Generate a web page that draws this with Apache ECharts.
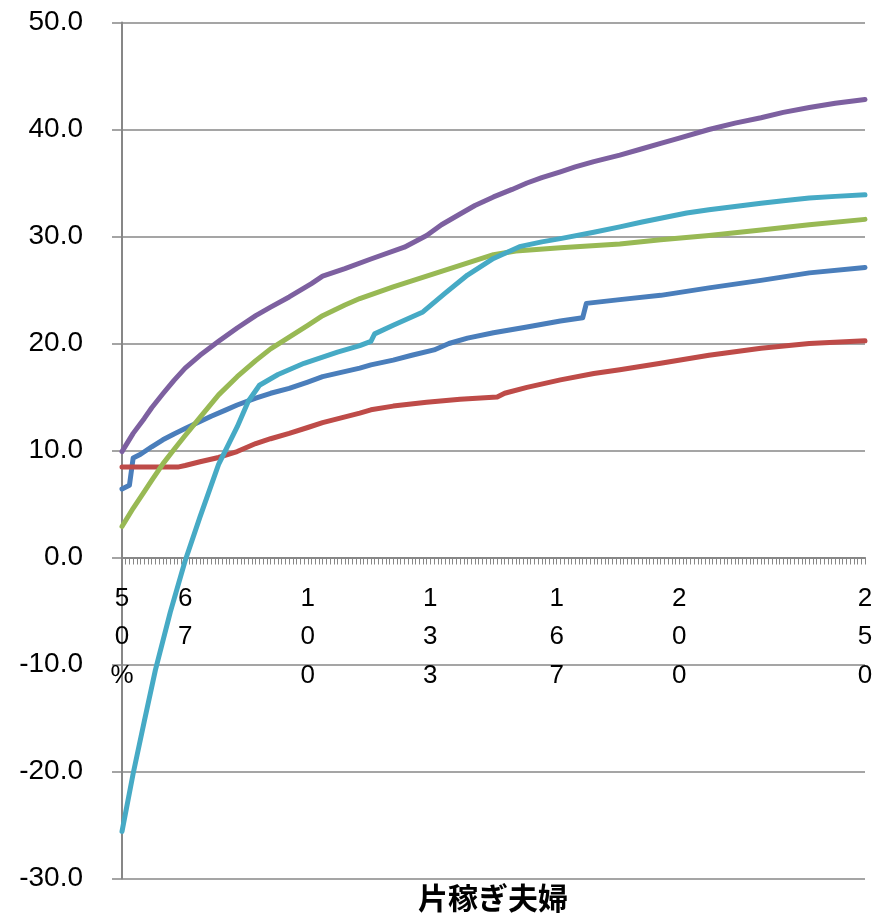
<!DOCTYPE html>
<html>
<head>
<meta charset="utf-8">
<script src="https://cdn.jsdelivr.net/npm/echarts@6/dist/echarts.min.js"></script>
<style>
  html, body { margin: 0; padding: 0; background: #fff; }
  #chart { width: 885px; height: 920px; }
</style>
</head>
<body>
<div id="chart"></div>
<script>
// Income ratio categories (%), one per step from 50 to 250
const ratioStart = 50;
const ratioEnd = 250;
const categories = [];
for (let r = ratioStart; r <= ratioEnd; r++) categories.push(String(r));

// Ratios that carry a tick label
const labeledRatios = [50, 67, 100, 133, 167, 200, 250];

// Y-axis scale
const yMin = -30;
const yMax = 50;
const yStep = 10;

// Series values as [ratio, value] pairs
const seriesBlue = [
  [50, 6.4], [52, 6.75], [53, 9.3], [55, 9.65], [58, 10.35], [61, 11.0],
  [64, 11.55], [67, 12.05], [71, 12.7], [74, 13.2], [78, 13.8], [81, 14.25],
  [86, 14.9], [90, 15.35], [95, 15.8], [100, 16.4], [104, 16.9], [109, 17.3],
  [114, 17.7], [117, 18.0], [123, 18.45], [128, 18.9], [134, 19.4],
  [138, 20.0], [143, 20.5], [150, 21.0], [159, 21.55], [168, 22.1],
  [174, 22.4], [175, 23.75], [184, 24.1], [195, 24.5], [208, 25.2],
  [222, 25.9], [235, 26.6], [250, 27.1]
];
const seriesRed = [
  [50, 8.45], [65, 8.45], [67, 8.6], [71, 8.95], [76, 9.35], [81, 9.9],
  [86, 10.65], [90, 11.1], [95, 11.6], [100, 12.15], [104, 12.6],
  [109, 13.05], [114, 13.5], [117, 13.8], [123, 14.15], [132, 14.5],
  [141, 14.8], [151, 15.0], [153, 15.35], [159, 15.9], [168, 16.6],
  [177, 17.2], [184, 17.55], [195, 18.15], [208, 18.9], [222, 19.55],
  [235, 20.0], [250, 20.25]
];
const seriesGreen = [
  [50, 2.9], [53, 4.6], [56, 6.15], [58, 7.2], [61, 8.75], [64, 10.1],
  [67, 11.4], [71, 13.1], [76, 15.2], [81, 16.9], [86, 18.4], [90, 19.5],
  [95, 20.6], [100, 21.7], [104, 22.6], [110, 23.6], [114, 24.2],
  [123, 25.3], [132, 26.3], [141, 27.3], [150, 28.3], [156, 28.65],
  [168, 28.95], [184, 29.3], [195, 29.7], [208, 30.1], [222, 30.6],
  [235, 31.1], [250, 31.6]
];
const seriesPurple = [
  [50, 9.9], [53, 11.6], [56, 13.0], [58, 14.0], [61, 15.3], [64, 16.55],
  [67, 17.7], [71, 18.9], [76, 20.2], [81, 21.45], [86, 22.6], [90, 23.4],
  [95, 24.35], [101, 25.6], [104, 26.3], [110, 27.0], [117, 27.9],
  [126, 29.0], [132, 30.1], [136, 31.1], [141, 32.1], [145, 32.9],
  [150, 33.7], [155, 34.4], [159, 35.0], [163, 35.5], [168, 36.05],
  [172, 36.5], [177, 37.0], [184, 37.6], [190, 38.2], [195, 38.7],
  [200, 39.2], [208, 40.0], [215, 40.6], [222, 41.1], [228, 41.6],
  [235, 42.05], [242, 42.45], [250, 42.8]
];
const seriesCyan = [
  [50, -25.6], [53, -20.2], [56, -15.3], [59, -10.5], [63, -5.1],
  [67, -0.3], [71, 3.8], [76, 8.7], [81, 12.2], [84, 14.6], [87, 16.1],
  [92, 17.1], [99, 18.15], [108, 19.2], [114, 19.8], [117, 20.2],
  [118, 20.9], [123, 21.7], [131, 22.95], [137, 24.7], [143, 26.4],
  [150, 27.95], [157, 29.05], [163, 29.5], [168, 29.8], [177, 30.4],
  [184, 30.9], [190, 31.35], [195, 31.7], [202, 32.2], [208, 32.5],
  [215, 32.8], [222, 33.1], [228, 33.35], [235, 33.6], [242, 33.75],
  [250, 33.9]
];

const axisName = '片稼ぎ夫婦';

const lines = [
  { name: '系列1', data: seriesBlue, color: '#4A7EBB' },
  { name: '系列2', data: seriesRed, color: '#BE4B48' },
  { name: '系列3', data: seriesGreen, color: '#98B954' },
  { name: '系列4', data: seriesPurple, color: '#7D60A0' },
  { name: '系列5', data: seriesCyan, color: '#46AAC5' }
];

const axisGray = '#878787';
const labelFont = 'Liberation Sans, Arial, sans-serif';

// Plot area geometry
const gridTop = 22.5;
const gridBottom = 41.5;
const gridHeight = 920 - gridTop - gridBottom;
// Shift the category axis up from the grid bottom to the zero line
const zeroOffset = -gridHeight * (0 - yMin) / (yMax - yMin);

const chart = echarts.init(document.getElementById('chart'), null, { renderer: 'canvas' });

chart.setOption({
  animation: false,
  backgroundColor: '#ffffff',
  title: {
    text: axisName,
    left: 418,
    top: 883,
    padding: 0,
    textStyle: {
      fontFamily: 'Noto Sans CJK JP',
      fontSize: 30,
      fontWeight: 'bold',
      color: '#000000'
    }
  },
  grid: {
    left: 122, right: 20, top: gridTop, bottom: gridBottom,
    containLabel: false, outerBoundsMode: 'none'
  },
  xAxis: {
    type: 'category',
    data: categories,
    boundaryGap: false,
    position: 'bottom',
    offset: zeroOffset,
    axisLine: { onZero: false, lineStyle: { color: axisGray, width: 2 } },
    axisTick: { show: true, interval: 0, length: 7, lineStyle: { color: axisGray, width: 1 } },
    axisLabel: {
      interval: (idx, val) => labeledRatios.includes(Number(val)),
      margin: 22,
      fontFamily: labelFont,
      fontSize: 26,
      lineHeight: 38.5,
      color: '#000000',
      formatter: (val) => {
        const txt = Number(val) === ratioStart ? val + '%' : val;
        return txt.split('').join('\n');
      }
    },
    splitLine: { show: false }
  },
  yAxis: {
    type: 'value',
    min: yMin,
    max: yMax,
    interval: yStep,
    axisLine: { show: true, onZero: false, lineStyle: { color: axisGray, width: 2 } },
    axisTick: { show: true, length: 10, lineStyle: { color: axisGray, width: 1.5 } },
    axisLabel: {
      margin: 39,
      fontFamily: labelFont,
      fontSize: 28,
      color: '#000000',
      formatter: (v) => v.toFixed(1)
    },
    splitLine: { show: true, lineStyle: { color: axisGray, width: 1.5 } }
  },
  series: lines.map((s) => ({
    name: s.name,
    type: 'line',
    data: s.data.map(([r, v]) => [String(r), v]),
    showSymbol: false,
    symbol: 'none',
    smooth: false,
    lineStyle: { color: s.color, width: 5, cap: 'round', join: 'round' },
    itemStyle: { color: s.color },
    emphasis: { disabled: true }
  }))
});
</script>
</body>
</html>
